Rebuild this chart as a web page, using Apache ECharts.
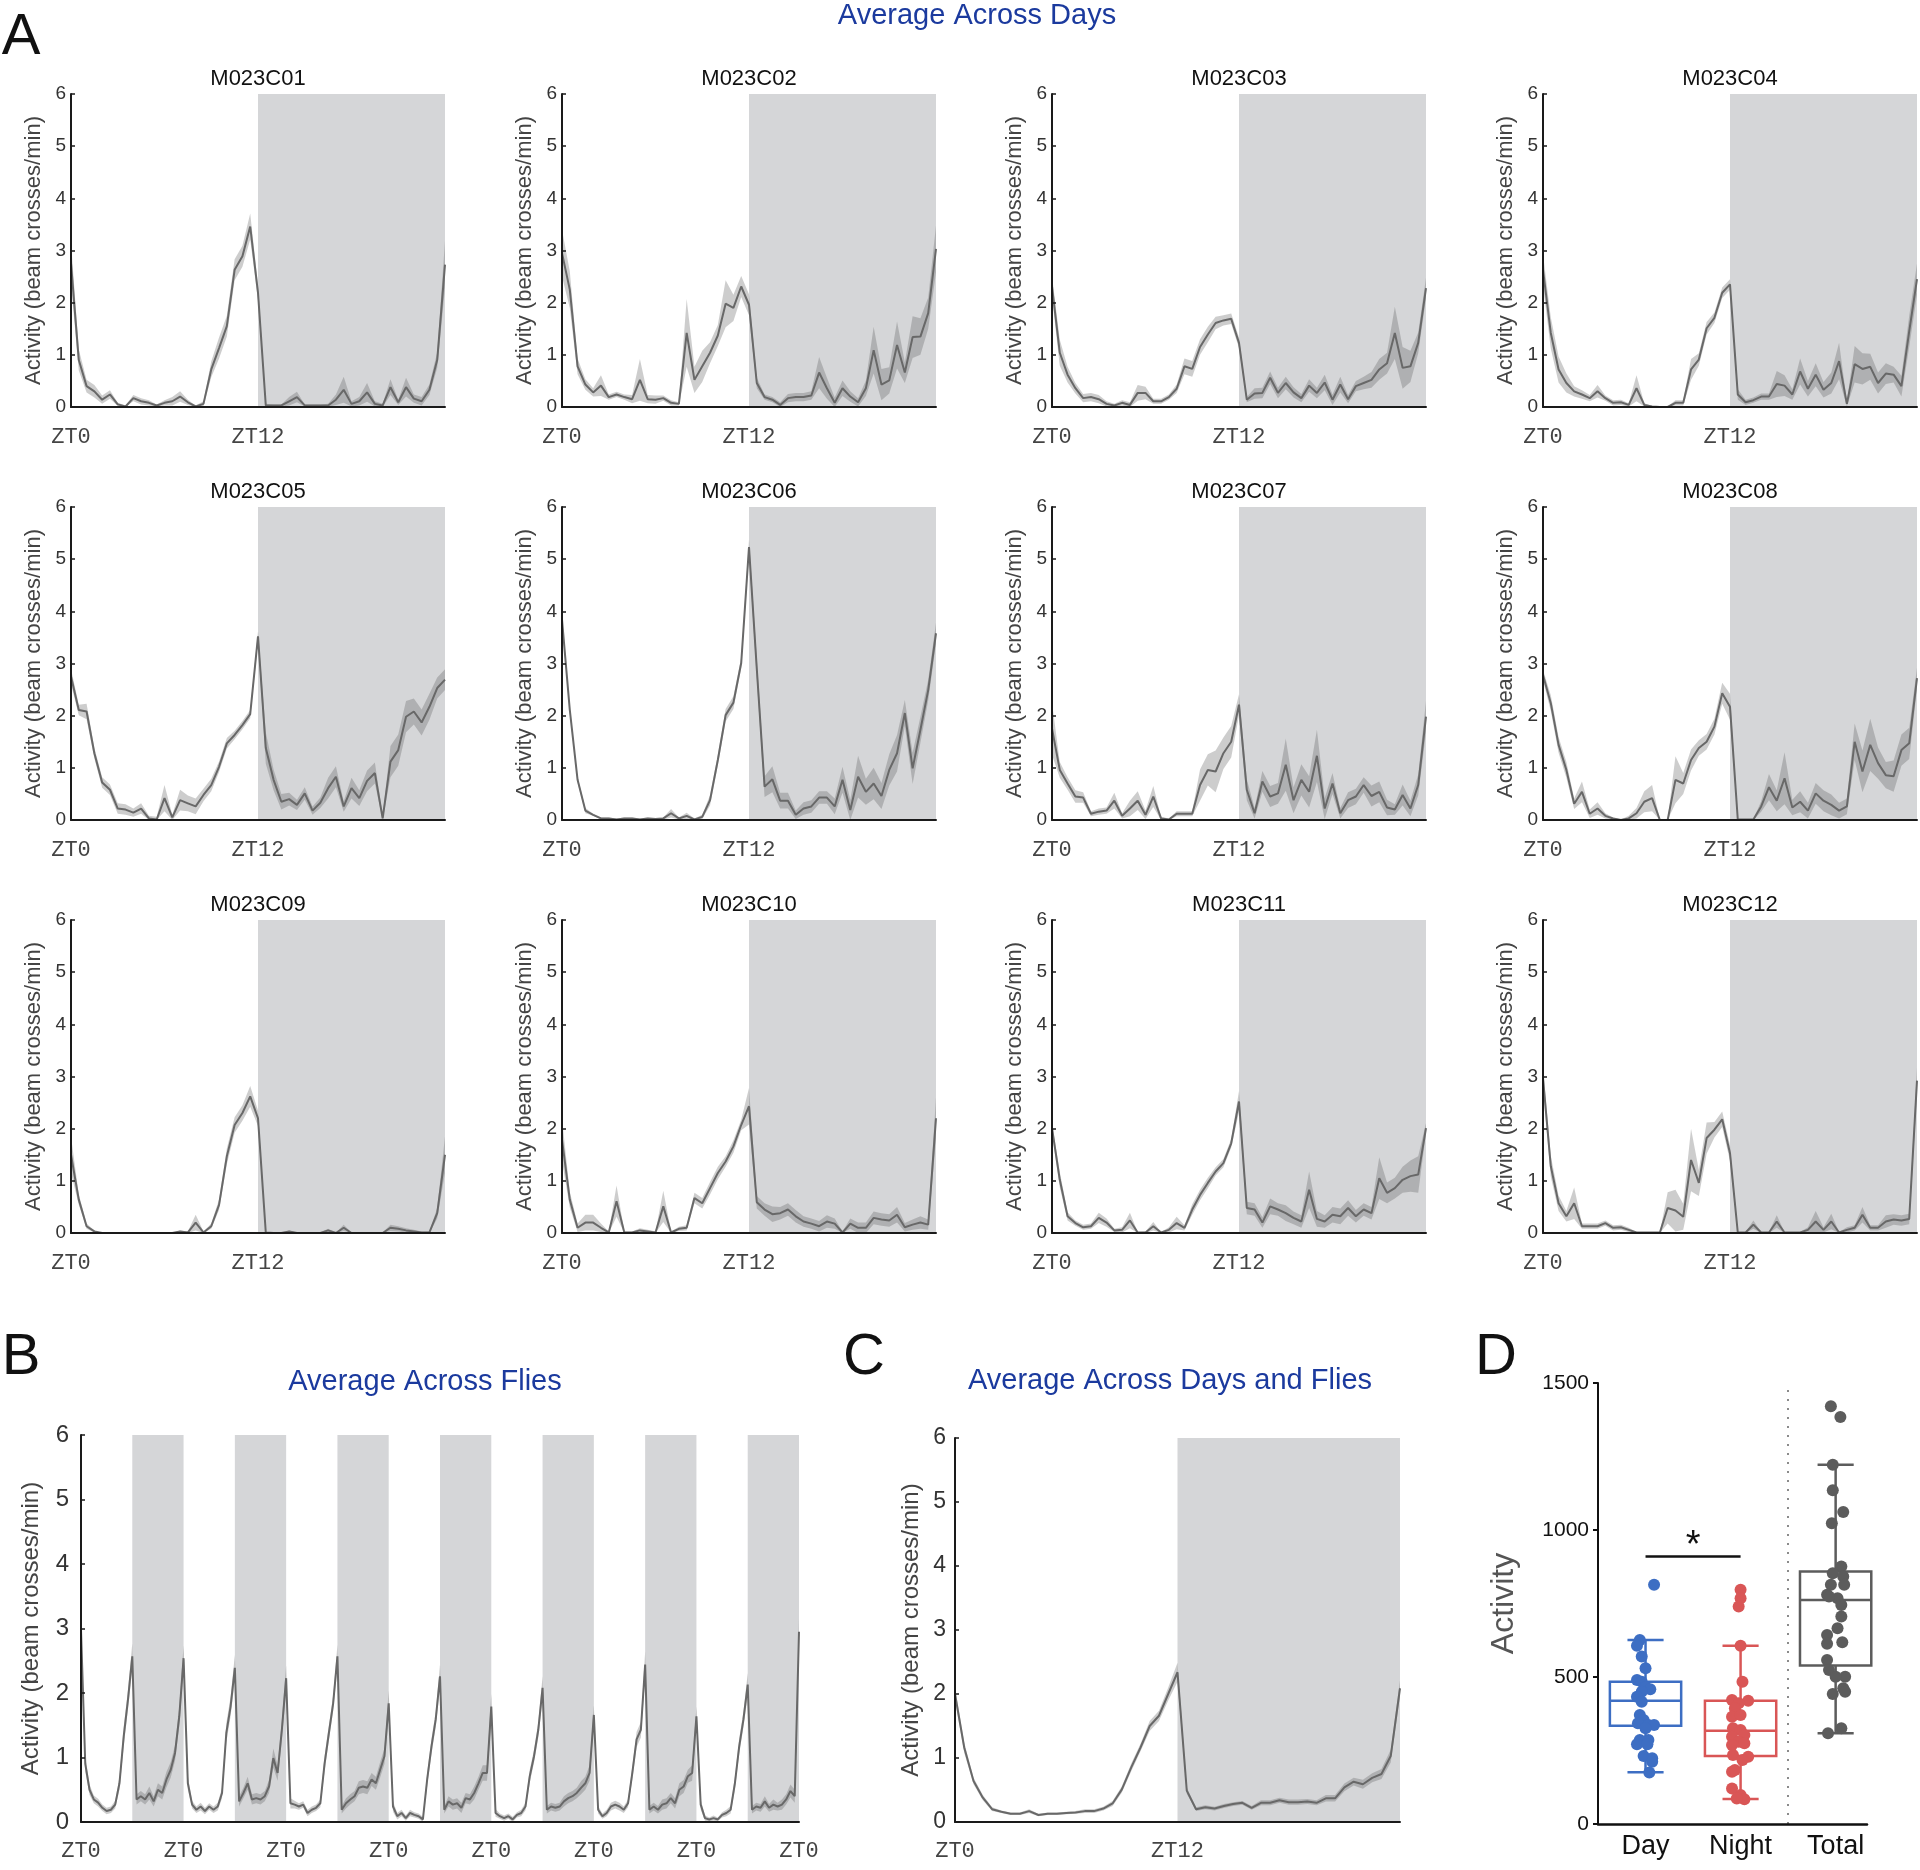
<!DOCTYPE html>
<html><head><meta charset="utf-8">
<script src="https://cdn.jsdelivr.net/npm/echarts@6/dist/echarts.min.js"></script>
<style>html,body{margin:0;padding:0;background:#fff}#c{width:1920px;height:1870px}</style>
</head><body><div id="c"></div>
<script>
// ---------------- DATA ----------------
const BIN_HOURS = [0,0.5,1,1.5,2,2.5,3,3.5,4,4.5,5,5.5,6,6.5,7,7.5,8,8.5,9,9.5,10,10.5,11,11.5,12,12.5,13,13.5,14,14.5,15,15.5,16,16.5,17,17.5,18,18.5,19,19.5,20,20.5,21,21.5,22,22.5,23,23.5,24];
const A_ZT_TICKS = [0, 12];
const SUBPLOT_NAMES = ['M023C01','M023C02','M023C03','M023C04','M023C05','M023C06','M023C07','M023C08','M023C09','M023C10','M023C11','M023C12'];

const MEAN_C01 = [2.76,0.9,0.4,0.3,0.14,0.24,0.05,0.01,0.17,0.11,0.08,0.03,0.08,0.11,0.2,0.09,0.01,0.06,0.72,1.13,1.55,2.63,2.89,3.46,2.19,0.03,0.03,0.03,0.11,0.19,0.03,0.03,0.03,0.03,0.14,0.33,0.06,0.11,0.28,0.06,0.03,0.38,0.09,0.38,0.16,0.11,0.33,0.9,2.73];
const ERR_C01 = [0.4,0.2,0.12,0.12,0.08,0.08,0.03,0.02,0.06,0.06,0.05,0.02,0.05,0.08,0.1,0.05,0.02,0.05,0.15,0.2,0.2,0.2,0.2,0.25,0.15,0.03,0.02,0.02,0.08,0.1,0.02,0.02,0.02,0.03,0.1,0.25,0.05,0.08,0.18,0.05,0.03,0.15,0.05,0.18,0.08,0.08,0.1,0.15,0.45];
const MEAN_C02 = [2.95,2.25,0.78,0.43,0.28,0.41,0.19,0.24,0.19,0.15,0.52,0.15,0.14,0.17,0.08,0.06,1.42,0.52,0.78,1.04,1.37,1.98,1.9,2.31,1.96,0.46,0.19,0.14,0.04,0.17,0.19,0.19,0.22,0.66,0.36,0.08,0.36,0.2,0.09,0.36,1.09,0.43,0.51,1.19,0.66,1.34,1.35,1.8,3.03];
const ERR_C02 = [0.45,0.35,0.15,0.1,0.08,0.2,0.05,0.05,0.05,0.08,0.4,0.08,0.08,0.05,0.05,0.03,0.65,0.25,0.3,0.2,0.2,0.45,0.25,0.2,0.2,0.1,0.05,0.05,0.05,0.08,0.08,0.08,0.08,0.3,0.2,0.1,0.15,0.1,0.08,0.15,0.45,0.3,0.25,0.45,0.2,0.4,0.35,0.3,0.45];
const MEAN_C03 = [2.31,1.04,0.62,0.36,0.17,0.19,0.15,0.06,0.03,0.08,0.04,0.27,0.27,0.11,0.11,0.19,0.35,0.78,0.73,1.15,1.39,1.61,1.66,1.69,1.23,0.14,0.26,0.27,0.56,0.27,0.46,0.28,0.17,0.41,0.27,0.47,0.14,0.43,0.15,0.4,0.46,0.52,0.72,0.84,1.42,0.75,0.78,1.23,2.28];
const ERR_C03 = [0.2,0.25,0.15,0.1,0.08,0.08,0.08,0.05,0.03,0.05,0.05,0.15,0.12,0.05,0.05,0.05,0.08,0.15,0.15,0.15,0.15,0.12,0.1,0.1,0.1,0.05,0.1,0.1,0.12,0.1,0.12,0.1,0.08,0.12,0.1,0.15,0.1,0.15,0.08,0.1,0.12,0.15,0.2,0.2,0.5,0.4,0.3,0.2,0.2];
const MEAN_C04 = [2.63,1.42,0.72,0.46,0.3,0.24,0.17,0.3,0.17,0.08,0.09,0.04,0.36,0.04,0.01,0,0,0.08,0.08,0.72,0.91,1.51,1.71,2.19,2.35,0.24,0.09,0.13,0.2,0.2,0.44,0.41,0.24,0.68,0.35,0.62,0.33,0.46,0.88,0.06,0.82,0.73,0.77,0.46,0.64,0.62,0.4,1.45,2.45];
const ERR_C04 = [0.3,0.3,0.25,0.18,0.1,0.08,0.06,0.12,0.05,0.05,0.05,0.03,0.25,0.03,0.01,0.01,0.01,0.05,0.05,0.2,0.12,0.12,0.1,0.1,0.1,0.1,0.05,0.05,0.06,0.06,0.25,0.2,0.1,0.25,0.15,0.22,0.15,0.2,0.35,0.05,0.35,0.3,0.25,0.2,0.2,0.15,0.2,0.3,0.3];
const MEAN_C05 = [2.75,2.11,2.08,1.28,0.72,0.58,0.22,0.2,0.14,0.22,0.03,0.01,0.42,0.05,0.38,0.32,0.26,0.48,0.67,1.02,1.47,1.63,1.82,2.03,3.52,1.38,0.77,0.35,0.4,0.29,0.51,0.18,0.33,0.61,0.83,0.26,0.61,0.42,0.75,0.9,0.03,1.12,1.34,1.98,2.08,1.87,2.17,2.53,2.69];
const ERR_C05 = [0.15,0.1,0.15,0.1,0.1,0.1,0.1,0.1,0.08,0.1,0.05,0.05,0.25,0.05,0.2,0.15,0.15,0.12,0.12,0.1,0.1,0.08,0.08,0.08,0.1,0.3,0.2,0.15,0.12,0.1,0.12,0.08,0.1,0.2,0.2,0.1,0.2,0.15,0.2,0.2,0.05,0.3,0.3,0.3,0.25,0.25,0.25,0.2,0.2];
const MEAN_C06 = [3.84,2.11,0.77,0.18,0.1,0.03,0.03,0.01,0.03,0.03,0.01,0.03,0.02,0.03,0.13,0.03,0.08,0.01,0.06,0.38,1.15,2.01,2.25,3.01,5.23,2.9,0.64,0.78,0.37,0.37,0.1,0.22,0.26,0.43,0.43,0.26,0.77,0.19,0.83,0.54,0.7,0.46,0.96,1.28,2.05,0.99,1.73,2.49,3.58];
const ERR_C06 = [0.1,0.05,0.05,0.05,0.02,0.02,0.02,0.02,0.02,0.02,0.02,0.02,0.02,0.02,0.08,0.02,0.06,0.02,0.04,0.1,0.1,0.12,0.12,0.1,0.15,0.2,0.2,0.25,0.15,0.15,0.08,0.12,0.12,0.12,0.12,0.15,0.25,0.2,0.4,0.25,0.3,0.25,0.3,0.35,0.25,0.3,0.25,0.2,0.2];
const MEAN_C07 = [1.75,0.96,0.7,0.45,0.43,0.12,0.16,0.18,0.37,0.08,0.22,0.37,0.1,0.45,0.03,0.01,0.12,0.12,0.12,0.67,0.96,0.93,1.28,1.5,2.21,0.58,0.13,0.74,0.45,0.51,1.06,0.38,0.77,0.54,1.23,0.22,0.7,0.13,0.38,0.45,0.67,0.46,0.54,0.24,0.2,0.48,0.22,0.67,1.98];
const ERR_C07 = [0.5,0.15,0.12,0.12,0.1,0.05,0.06,0.06,0.15,0.05,0.15,0.18,0.08,0.2,0.03,0.02,0.05,0.05,0.05,0.3,0.3,0.4,0.3,0.3,0.2,0.2,0.1,0.2,0.2,0.2,0.5,0.25,0.3,0.3,0.5,0.2,0.2,0.1,0.15,0.15,0.15,0.2,0.2,0.15,0.1,0.2,0.15,0.2,0.3];
const MEAN_C08 = [2.78,2.24,1.44,0.96,0.31,0.54,0.12,0.22,0.08,0.03,0,0.03,0.13,0.35,0.42,0,0,0.77,0.7,1.15,1.38,1.5,1.79,2.43,2.17,0.01,0.01,0.01,0.26,0.63,0.37,0.8,0.24,0.35,0.18,0.51,0.37,0.29,0.18,0.26,1.5,0.93,1.44,1.09,0.86,0.84,1.34,1.47,2.72];
const ERR_C08 = [0.1,0.15,0.15,0.15,0.1,0.2,0.08,0.12,0.05,0.02,0.01,0.05,0.1,0.2,0.25,0.01,0.01,0.45,0.2,0.2,0.15,0.15,0.15,0.2,0.25,0.01,0.01,0.01,0.1,0.25,0.2,0.5,0.15,0.2,0.15,0.2,0.2,0.2,0.15,0.15,0.35,0.4,0.5,0.3,0.25,0.3,0.3,0.3,0.2];
const MEAN_C09 = [1.5,0.64,0.13,0.03,0,0,0,0,0,0,0,0,0,0,0.03,0.01,0.2,0.01,0.13,0.54,1.47,2.07,2.3,2.62,2.2,0.01,0,0,0.03,0,0,0,0,0.05,0,0.1,0,0,0,0,0,0.1,0.08,0.05,0.03,0.01,0.01,0.38,1.5];
const ERR_C09 = [0.35,0.1,0.05,0.02,0,0,0,0,0,0,0,0,0,0,0.02,0.02,0.15,0.02,0.05,0.1,0.15,0.15,0.15,0.2,0.15,0.01,0.01,0.01,0.02,0.01,0.01,0.01,0.01,0.03,0.01,0.06,0.01,0.01,0.01,0.01,0.01,0.06,0.05,0.04,0.03,0.02,0.02,0.1,0.35];
const MEAN_C10 = [1.79,0.64,0.1,0.2,0.2,0.1,0.01,0.61,0.01,0.01,0.05,0.03,0.01,0.51,0.01,0.08,0.1,0.67,0.57,0.86,1.15,1.37,1.66,2.07,2.43,0.59,0.45,0.36,0.38,0.45,0.32,0.22,0.18,0.13,0.22,0.18,0.01,0.18,0.1,0.1,0.29,0.26,0.24,0.35,0.11,0.16,0.2,0.16,2.2];
const ERR_C10 = [0.4,0.15,0.08,0.15,0.15,0.08,0.02,0.3,0.02,0.02,0.04,0.03,0.02,0.3,0.02,0.04,0.05,0.1,0.1,0.12,0.12,0.1,0.12,0.1,0.35,0.12,0.12,0.15,0.12,0.12,0.12,0.1,0.1,0.1,0.12,0.1,0.02,0.1,0.1,0.1,0.12,0.12,0.12,0.15,0.08,0.1,0.12,0.1,0.4];
const MEAN_C11 = [2.01,1.02,0.32,0.19,0.11,0.13,0.29,0.2,0.05,0.06,0.24,0.01,0.01,0.13,0.01,0.06,0.19,0.1,0.45,0.73,0.96,1.18,1.34,1.72,2.52,0.48,0.45,0.2,0.51,0.45,0.38,0.29,0.22,0.83,0.27,0.22,0.35,0.32,0.48,0.32,0.45,0.38,1.05,0.77,0.86,1.02,1.09,1.12,2.01];
const ERR_C11 = [0.1,0.15,0.08,0.05,0.05,0.05,0.1,0.08,0.03,0.05,0.15,0.01,0.02,0.08,0.01,0.05,0.12,0.05,0.1,0.1,0.1,0.08,0.08,0.08,0.2,0.12,0.12,0.1,0.15,0.12,0.15,0.12,0.12,0.35,0.15,0.12,0.15,0.15,0.15,0.12,0.12,0.12,0.4,0.2,0.2,0.25,0.3,0.35,0.1];
const MEAN_C12 = [2.97,1.28,0.57,0.32,0.57,0.13,0.13,0.13,0.19,0.1,0.11,0.06,0.01,0.01,0.01,0.01,0.48,0.43,0.31,1.4,0.96,1.82,1.98,2.18,1.53,0.01,0.01,0.16,0.01,0.01,0.22,0.01,0.01,0.01,0.06,0.22,0.06,0.22,0.01,0.06,0.1,0.35,0.1,0.1,0.22,0.26,0.24,0.27,2.92];
const ERR_C12 = [0.2,0.2,0.15,0.1,0.3,0.05,0.05,0.05,0.05,0.05,0.05,0.04,0.01,0.01,0.01,0.01,0.3,0.4,0.25,0.6,0.25,0.3,0.15,0.15,0.15,0.01,0.01,0.08,0.01,0.01,0.12,0.01,0.01,0.01,0.05,0.2,0.05,0.15,0.01,0.05,0.05,0.15,0.05,0.05,0.12,0.1,0.1,0.1,0.25];

// Panel B: hourly means for 7 consecutive days (ZT0..ZT23) + final ZT0
const B_DAY1 = [2.98,0.9,0.5,0.35,0.3,0.22,0.17,0.19,0.27,0.6,1.33,1.9,2.57,0.35,0.4,0.35,0.45,0.32,0.5,0.45,0.66,0.81,1.07,1.64];
const B_DAY2 = [2.54,0.6,0.27,0.19,0.24,0.17,0.24,0.19,0.24,0.45,1.38,1.79,2.39,0.32,0.45,0.6,0.35,0.37,0.35,0.4,0.55,0.99,0.76,1.43];
const B_DAY3 = [2.23,0.29,0.27,0.24,0.27,0.14,0.19,0.22,0.29,0.91,1.38,1.84,2.57,0.19,0.29,0.35,0.4,0.53,0.55,0.53,0.66,0.6,0.81,1.02];
const B_DAY4 = [1.84,0.24,0.09,0.14,0.06,0.14,0.11,0.09,0.04,0.66,1.17,1.59,2.26,0.19,0.32,0.27,0.29,0.22,0.37,0.35,0.45,0.6,0.76,0.76];
const B_DAY5 = [1.79,0.14,0.09,0.06,0.09,0.04,0.11,0.14,0.24,0.71,1.02,1.43,2.08,0.19,0.24,0.22,0.24,0.32,0.37,0.4,0.45,0.53,0.6,0.76];
const B_DAY6 = [1.66,0.19,0.09,0.14,0.24,0.27,0.24,0.19,0.29,0.76,1.28,1.43,2.44,0.19,0.24,0.19,0.27,0.29,0.37,0.29,0.5,0.55,0.71,0.76];
const B_DAY7 = [1.64,0.27,0.06,0.04,0.06,0.04,0.11,0.14,0.19,0.6,1.17,1.59,2.13,0.19,0.24,0.22,0.32,0.22,0.27,0.24,0.27,0.35,0.48,0.4];
const B_END = 2.95;
const B_ERR1 = [0.2,0.12,0.08,0.06,0.06,0.05,0.05,0.05,0.06,0.1,0.15,0.15,0.2,0.08,0.08,0.08,0.1,0.08,0.1,0.1,0.12,0.12,0.12,0.15];
const B_ERR2 = [0.2,0.1,0.06,0.05,0.06,0.05,0.05,0.05,0.06,0.08,0.15,0.15,0.2,0.08,0.08,0.1,0.08,0.08,0.08,0.08,0.1,0.15,0.12,0.15];
const B_ERR3 = [0.2,0.08,0.06,0.05,0.05,0.05,0.05,0.05,0.06,0.12,0.12,0.12,0.18,0.06,0.08,0.08,0.08,0.1,0.1,0.1,0.1,0.1,0.12,0.12];
const B_ERR4 = [0.2,0.08,0.05,0.05,0.04,0.05,0.04,0.04,0.04,0.1,0.12,0.12,0.18,0.06,0.08,0.08,0.08,0.08,0.08,0.08,0.1,0.1,0.12,0.12];
const B_ERR5 = [0.2,0.06,0.04,0.04,0.04,0.04,0.04,0.05,0.06,0.1,0.1,0.12,0.18,0.06,0.06,0.06,0.06,0.08,0.08,0.08,0.08,0.1,0.1,0.12];
const B_ERR6 = [0.15,0.06,0.04,0.05,0.06,0.06,0.06,0.05,0.06,0.1,0.12,0.12,0.2,0.06,0.06,0.06,0.08,0.08,0.08,0.08,0.1,0.1,0.1,0.12];
const B_ERR7 = [0.15,0.08,0.04,0.03,0.04,0.03,0.04,0.05,0.06,0.1,0.12,0.12,0.18,0.06,0.06,0.06,0.08,0.06,0.08,0.06,0.08,0.08,0.1,0.1];
const B_ERR_END = 0.2;
const B_DAYS = 7;

// Panel C
const C_MEAN = [2.0,1.16,0.64,0.38,0.2,0.16,0.13,0.13,0.17,0.11,0.13,0.13,0.14,0.15,0.17,0.17,0.21,0.29,0.51,0.85,1.16,1.5,1.66,2.0,2.34,0.49,0.2,0.23,0.21,0.25,0.28,0.3,0.22,0.3,0.3,0.34,0.31,0.31,0.32,0.3,0.37,0.37,0.54,0.63,0.59,0.69,0.75,1.03,2.09];
const C_ERR = [0.1,0.08,0.05,0.04,0.03,0.02,0.02,0.02,0.03,0.02,0.02,0.02,0.02,0.02,0.03,0.03,0.03,0.04,0.05,0.06,0.06,0.08,0.08,0.1,0.15,0.05,0.03,0.03,0.03,0.03,0.03,0.03,0.03,0.04,0.04,0.04,0.04,0.04,0.04,0.04,0.05,0.05,0.06,0.06,0.07,0.07,0.08,0.1,0.12];

// Panel D
const D_CATEGORIES = ['Day', 'Night', 'Total'];
const D_CATEGORY_POS = [0, 1, 2];
const D_BOX_DAY = [176, 334, 419, 484, 626];     // min, q1, median, q3, max
const D_BOX_NIGHT = [85, 231, 317, 419, 606];
const D_BOX_TOTAL = [309, 539, 762, 859, 1222];
const DAY_VALUES = [814,626,606,570,530,490,484,466,458,450,433,416,371,354,343,337,337,326,286,286,271,271,231,224,212,175];
const DAY_JITTER = [0.09,-0.06,-0.09,-0.04,0,-0.09,-0.04,0,0.05,-0.04,-0.09,-0.04,-0.06,-0.02,-0.08,0.03,0.09,0,-0.06,0.03,-0.09,0.02,-0.02,0.07,0.07,0.04];
const NIGHT_VALUES = [797,768,740,606,484,422,419,411,394,365,371,326,320,303,297,280,275,269,235,229,218,178,184,121,99,84,87];
const NIGHT_JITTER = [0,0,-0.02,0,0.02,-0.09,0.08,-0.02,-0.06,-0.09,0,-0.08,0,0.04,-0.09,-0.02,0.04,-0.09,-0.08,0.08,0.02,-0.09,-0.06,-0.09,0,0.04,-0.04];
const TOTAL_VALUES = [1421,1384,1222,1135,1061,1023,876,853,842,814,814,780,768,774,745,706,666,643,618,613,558,524,501,501,462,450,442,326,309];
const TOTAL_JITTER = [-0.05,0.05,-0.03,-0.03,0.08,-0.04,0.06,-0.03,0.08,-0.05,0.09,-0.09,0.02,-0.07,0.06,0.06,0.02,-0.09,0.07,-0.09,-0.09,-0.07,0.1,0,0.08,0.1,-0.03,0.06,-0.08];
const SIG_LEVEL = 912;
const SIG_TEXT = '*';
const D_SEPARATOR = 1.5;

// ---------------- STYLE / LAYOUT ----------------
const FONT = '"Liberation Sans", Arial, Helvetica, sans-serif';
const MONO = '"Liberation Mono", "DejaVu Sans Mono", monospace';
const BLUE = '#1b3a9e';
const NIGHT_COLOR = '#d5d6d8';
const BAND_COLOR = 'rgba(90,90,90,0.3)';
const LINE_COLOR = '#686868';
const AXIS_COLOR = '#1a1a1a';
const D_COLORS = ['#3d6ec3', '#d95656', '#5c5c5c'];

const A_LEFT = [71, 562, 1052, 1543], A_TOP = [94, 507, 920], A_W = 374, A_H = 313;
const B_RECT = {left: 81, top: 1435, width: 718, height: 387};
const C_RECT = {left: 955, top: 1438, width: 445, height: 384};
const D_RECT = {left: 1598, top: 1383, width: 269, height: 441};
const D_X_MAX = 2.33;

const grids = [], xAxes = [], yAxes = [], series = [], graphics = [];

function txt(x, y, text, size, color, family) {
  return {type: 'text', x: x, y: y, silent: true, z: 100,
    style: {text: text, fontSize: size, fontFamily: family || FONT, fill: color,
      textAlign: 'center', align: 'center', textVerticalAlign: 'middle', verticalAlign: 'middle'}};
}
function catAxis(gi, cats, ticks, fmt, margin, fontSize) {
  const names = cats.map(String);
  const tickSet = ticks.map(String);
  return {gridIndex: gi, type: 'category', data: names, boundaryGap: false, z: 10,
    axisLine: {show: true, onZero: false, lineStyle: {color: AXIS_COLOR, width: 2}},
    axisTick: {show: false}, splitLine: {show: false}, splitArea: {show: false},
    axisLabel: {show: true, interval: function (i, v) { return tickSet.indexOf(String(v)) >= 0; },
      formatter: fmt, margin: margin, fontFamily: MONO, fontSize: fontSize, color: '#444', hideOverlap: false}};
}
function actYAxis(gi, labelSize, nameSize, nameGap, margin) {
  return {gridIndex: gi, type: 'value', min: 0, max: 6, interval: 1, z: 10,
    name: 'Activity (beam crosses/min)', nameLocation: 'middle', nameRotate: 90, nameGap: nameGap,
    nameTextStyle: {fontFamily: FONT, fontSize: nameSize, color: '#444'},
    axisLine: {show: true, onZero: false, lineStyle: {color: AXIS_COLOR, width: 2}},
    axisTick: {show: true, inside: true, length: 4, lineStyle: {color: AXIS_COLOR, width: 1.5}},
    axisLabel: {fontFamily: FONT, fontSize: labelSize, color: '#333', margin: margin},
    splitLine: {show: false}};
}
function addTrace(gi, mean, err, nights) {
  const lo = mean.map(function (m, i) { return Math.max(0, m - err[i]); });
  const span = mean.map(function (m, i) { return +(m + err[i] - lo[i]).toFixed(4); });
  series.push({type: 'line', xAxisIndex: gi, yAxisIndex: gi, data: lo, stack: 'band' + gi,
    symbol: 'none', silent: true, lineStyle: {opacity: 0, width: 0}, z: 2,
    markArea: {silent: true, itemStyle: {color: NIGHT_COLOR, borderWidth: 0},
      data: nights.map(function (n) { return [{xAxis: String(n[0])}, {xAxis: String(n[1])}]; })}});
  series.push({type: 'line', xAxisIndex: gi, yAxisIndex: gi, data: span, stack: 'band' + gi,
    symbol: 'none', silent: true, lineStyle: {opacity: 0, width: 0}, areaStyle: {color: BAND_COLOR, opacity: 1}, z: 3});
  series.push({type: 'line', xAxisIndex: gi, yAxisIndex: gi, data: mean,
    symbol: 'none', silent: true, lineStyle: {color: LINE_COLOR, width: 2}, z: 4});
}

// ---------- Panel A ----------
const A_MEANS = [MEAN_C01, MEAN_C02, MEAN_C03, MEAN_C04, MEAN_C05, MEAN_C06, MEAN_C07, MEAN_C08, MEAN_C09, MEAN_C10, MEAN_C11, MEAN_C12];
const A_ERRS = [ERR_C01, ERR_C02, ERR_C03, ERR_C04, ERR_C05, ERR_C06, ERR_C07, ERR_C08, ERR_C09, ERR_C10, ERR_C11, ERR_C12];
const ONE_DAY_NIGHT = [[12, 24]];
for (let k = 0; k < 12; k++) {
  const r = Math.floor(k / 4), c = k % 4;
  const left = A_LEFT[c], top = A_TOP[r];
  grids.push({left: left, top: top, width: A_W, height: A_H, containLabel: false, outerBoundsMode: 'none'});
  xAxes.push(catAxis(k, BIN_HOURS, A_ZT_TICKS, function (v) { return 'ZT' + v; }, 19, 22));
  yAxes.push(actYAxis(k, 19, 22, 26, 5));
  addTrace(k, A_MEANS[k], A_ERRS[k], ONE_DAY_NIGHT);
  graphics.push(txt(left + A_W / 2, top - 15, SUBPLOT_NAMES[k], 22, '#111'));
}

// ---------- Panel B ----------
const B_MEAN = [].concat(B_DAY1, B_DAY2, B_DAY3, B_DAY4, B_DAY5, B_DAY6, B_DAY7, [B_END]);
const B_ERR = [].concat(B_ERR1, B_ERR2, B_ERR3, B_ERR4, B_ERR5, B_ERR6, B_ERR7, [B_ERR_END]);
const B_HOURS = B_MEAN.map(function (_, h) { return h; });
const B_TICKS = B_HOURS.filter(function (h) { return h % 24 === 0; });
const B_NIGHTS = [];
for (let d = 0; d < B_DAYS; d++) B_NIGHTS.push([24 * d + 12, 24 * d + 24]);
grids.push({left: B_RECT.left, top: B_RECT.top, width: B_RECT.width, height: B_RECT.height, containLabel: false, outerBoundsMode: 'none'});
xAxes.push(catAxis(12, B_HOURS, B_TICKS, function (v) { return 'ZT' + (Number(v) % 24); }, 18, 22));
yAxes.push(actYAxis(12, 24, 24, 38, 12));
addTrace(12, B_MEAN, B_ERR, B_NIGHTS);

// ---------- Panel C ----------
grids.push({left: C_RECT.left, top: C_RECT.top, width: C_RECT.width, height: C_RECT.height, containLabel: false, outerBoundsMode: 'none'});
xAxes.push(catAxis(13, BIN_HOURS, A_ZT_TICKS, function (v) { return 'ZT' + v; }, 18, 22));
yAxes.push(actYAxis(13, 23, 24, 32, 9));
addTrace(13, C_MEAN, C_ERR, ONE_DAY_NIGHT);

// ---------- Panel D ----------
grids.push({left: D_RECT.left, top: D_RECT.top, width: D_RECT.width, height: D_RECT.height, containLabel: false, outerBoundsMode: 'none'});
xAxes.push({gridIndex: 14, type: 'value', min: -0.5, max: D_X_MAX, z: 10,
  axisLine: {show: true, onZero: false, lineStyle: {color: '#111', width: 2.5}}, axisTick: {show: false},
  axisLabel: {customValues: D_CATEGORY_POS, formatter: function (v) { return D_CATEGORIES[Math.round(v)]; },
    fontFamily: FONT, fontSize: 27, color: '#111', margin: 9},
  splitLine: {show: false}});
yAxes.push({gridIndex: 14, type: 'value', min: 0, max: 1500, interval: 500, z: 10,
  name: 'Activity', nameLocation: 'middle', nameRotate: 90, nameGap: 78,
  nameTextStyle: {fontFamily: FONT, fontSize: 32, color: '#555'},
  axisLine: {show: true, onZero: false, lineStyle: {color: '#111', width: 2}},
  axisTick: {show: true, inside: false, length: 5, lineStyle: {color: '#111', width: 2}},
  axisLabel: {fontFamily: FONT, fontSize: 21, color: '#111', margin: 9, formatter: function (v) { return String(v); }},
  splitLine: {show: false}});

const D_BOXES = [D_BOX_DAY, D_BOX_NIGHT, D_BOX_TOTAL];
series.push({type: 'custom', xAxisIndex: 14, yAxisIndex: 14, silent: true, z: 3,
  data: D_BOXES.map(function (b, i) { return [D_CATEGORY_POS[i]].concat(b); }),
  encode: {x: 0, y: [1, 2, 3, 4, 5]},
  renderItem: function (params, api) {
    const i = api.value(0);
    const col = D_COLORS[params.dataIndex];
    const bw = api.size([1, 0])[0];
    const p = function (k) { return api.coord([i, api.value(k)]); };
    const pMin = p(1), pQ1 = p(2), pMed = p(3), pQ3 = p(4), pMax = p(5);
    const cx = pMin[0], hb = bw * 0.375, hc = bw * 0.19;
    const st = {stroke: col, lineWidth: 2.5, fill: null};
    return {type: 'group', children: [
      {type: 'line', shape: {x1: cx, y1: pMax[1], x2: cx, y2: pQ3[1]}, style: st},
      {type: 'line', shape: {x1: cx, y1: pQ1[1], x2: cx, y2: pMin[1]}, style: st},
      {type: 'line', shape: {x1: cx - hc, y1: pMax[1], x2: cx + hc, y2: pMax[1]}, style: st},
      {type: 'line', shape: {x1: cx - hc, y1: pMin[1], x2: cx + hc, y2: pMin[1]}, style: st},
      {type: 'rect', shape: {x: cx - hb, y: pQ3[1], width: 2 * hb, height: pQ1[1] - pQ3[1]}, style: {stroke: col, lineWidth: 2.5, fill: 'rgba(255,255,255,0)'}},
      {type: 'line', shape: {x1: cx - hb, y1: pMed[1], x2: cx + hb, y2: pMed[1]}, style: st}
    ]};
  }});
function dots(cat, values, jitter, color, extra) {
  const s = {type: 'scatter', xAxisIndex: 14, yAxisIndex: 14, silent: true, z: 5,
    data: values.map(function (v, i) { return [cat + jitter[i], v]; }),
    symbol: 'circle', symbolSize: 12, itemStyle: {color: color, opacity: 1, borderWidth: 0}};
  return Object.assign(s, extra || {});
}
series.push(dots(D_CATEGORY_POS[0], DAY_VALUES, DAY_JITTER, D_COLORS[0], {
  markLine: {silent: true, symbol: ['none', 'none'], animation: false,
    lineStyle: {color: '#111', width: 2.5, type: 'solid'},
    label: {show: true, position: 'middle', formatter: SIG_TEXT, fontSize: 38, fontFamily: FONT, color: '#111', distance: -10},
    data: [[{coord: [D_CATEGORY_POS[0], SIG_LEVEL]}, {coord: [D_CATEGORY_POS[1], SIG_LEVEL]}]]}}));
series.push(dots(D_CATEGORY_POS[1], NIGHT_VALUES, NIGHT_JITTER, D_COLORS[1], {
  markLine: {silent: true, symbol: ['none', 'none'], animation: false,
    lineStyle: {color: '#666', width: 1.5, type: [2, 7]}, label: {show: false},
    data: [{xAxis: D_SEPARATOR}]}}));
series.push(dots(D_CATEGORY_POS[2], TOTAL_VALUES, TOTAL_JITTER, D_COLORS[2]));

// ---------- Texts ----------
graphics.push(txt(977, 16, 'Average Across Days', 29, BLUE));
graphics.push(txt(425, 1382, 'Average Across Flies', 29, BLUE));
graphics.push(txt(1170, 1381, 'Average Across Days and Flies', 29, BLUE));
graphics.push(txt(21, 38, 'A', 58, '#111'));
graphics.push(txt(21, 1358, 'B', 58, '#111'));
graphics.push(txt(864, 1358, 'C', 58, '#111'));
graphics.push(txt(1496, 1358, 'D', 58, '#111'));

const chart = echarts.init(document.getElementById('c'), null, {renderer: 'canvas', width: 1920, height: 1870});
chart.setOption({
  animation: false,
  backgroundColor: '#ffffff',
  textStyle: {fontFamily: FONT},
  tooltip: {show: false},
  grid: grids, xAxis: xAxes, yAxis: yAxes, series: series, graphic: graphics
});
</script></body></html>
